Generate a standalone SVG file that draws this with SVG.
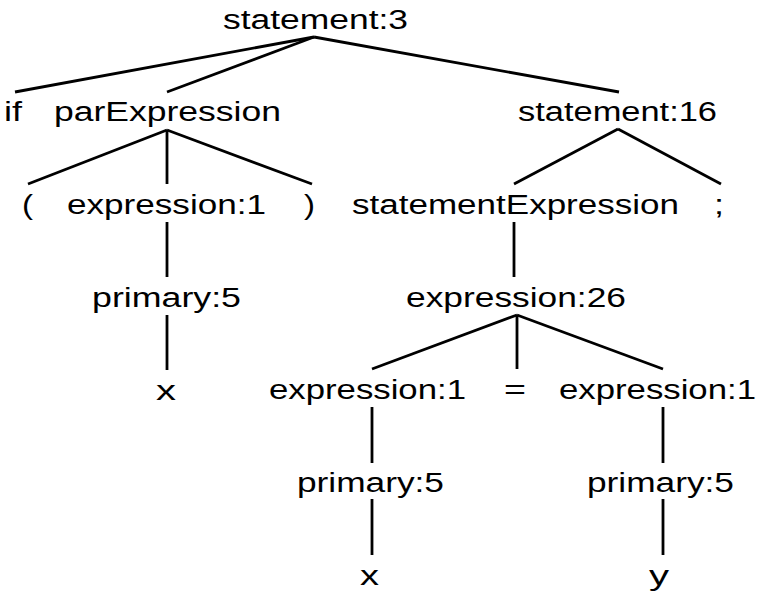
<svg xmlns="http://www.w3.org/2000/svg" width="762" height="602" viewBox="0 0 762 602">
<style>
text{font-family:"Liberation Sans",Arial,Helvetica,sans-serif;font-size:27px;fill:#000}
#edges line{stroke:#000;stroke-width:2.8;stroke-linecap:butt}
</style>
<rect width="762" height="602" fill="#fff"/>
<g id="edges">
<line x1="314" y1="37" x2="15" y2="92"/>
<line x1="314" y1="37" x2="167" y2="92"/>
<line x1="314" y1="37" x2="619" y2="92"/>
<line x1="167" y1="130" x2="28" y2="184"/>
<line x1="167" y1="130" x2="167" y2="184"/>
<line x1="167" y1="130" x2="312" y2="184"/>
<line x1="618" y1="129" x2="514" y2="184"/>
<line x1="618" y1="129" x2="721" y2="184"/>
<line x1="167" y1="222" x2="167" y2="277"/>
<line x1="514" y1="222" x2="514" y2="277"/>
<line x1="167" y1="315" x2="167" y2="370"/>
<line x1="517" y1="315" x2="372" y2="369"/>
<line x1="517" y1="315" x2="517" y2="369"/>
<line x1="517" y1="315" x2="663" y2="369"/>
<line x1="372" y1="407" x2="372" y2="463"/>
<line x1="663" y1="407" x2="663" y2="463"/>
<line x1="372" y1="499" x2="372" y2="555"/>
<line x1="663" y1="499" x2="663" y2="555"/>
</g>
<g id="n_statement3"><text x="223" y="29" textLength="185" lengthAdjust="spacingAndGlyphs">statement:3</text></g>
<g id="n_if"><text x="4" y="121" textLength="18" lengthAdjust="spacingAndGlyphs">if</text></g>
<g id="n_parExpression"><text x="54" y="121" textLength="227" lengthAdjust="spacingAndGlyphs">parExpression</text></g>
<g id="n_statement16"><text x="518" y="121" textLength="199" lengthAdjust="spacingAndGlyphs">statement:16</text></g>
<g id="n_lparen"><text x="22" y="214" textLength="11" lengthAdjust="spacingAndGlyphs">(</text></g>
<g id="n_expression1a"><text x="67" y="214" textLength="199" lengthAdjust="spacingAndGlyphs">expression:1</text></g>
<g id="n_rparen"><text x="304" y="214" textLength="11" lengthAdjust="spacingAndGlyphs">)</text></g>
<g id="n_statementExpression"><text x="352" y="214" textLength="327" lengthAdjust="spacingAndGlyphs">statementExpression</text></g>
<g id="n_semi"><text x="714" y="214" textLength="10" lengthAdjust="spacingAndGlyphs">;</text></g>
<g id="n_primary5a"><text x="92" y="307" textLength="149" lengthAdjust="spacingAndGlyphs">primary:5</text></g>
<g id="n_expression26"><text x="406" y="307" textLength="220" lengthAdjust="spacingAndGlyphs">expression:26</text></g>
<g id="n_xa"><text x="156" y="400" textLength="20" lengthAdjust="spacingAndGlyphs">x</text></g>
<g id="n_expression1b"><text x="269" y="399" textLength="197" lengthAdjust="spacingAndGlyphs">expression:1</text></g>
<g id="n_eq"><text x="504" y="399" textLength="22" lengthAdjust="spacingAndGlyphs">=</text></g>
<g id="n_expression1c"><text x="559" y="399" textLength="197" lengthAdjust="spacingAndGlyphs">expression:1</text></g>
<g id="n_primary5b"><text x="297" y="492" textLength="147" lengthAdjust="spacingAndGlyphs">primary:5</text></g>
<g id="n_primary5c"><text x="587" y="492" textLength="147" lengthAdjust="spacingAndGlyphs">primary:5</text></g>
<g id="n_xb"><text x="360" y="585" textLength="19" lengthAdjust="spacingAndGlyphs">x</text></g>
<g id="n_y"><text x="649" y="585" textLength="20" lengthAdjust="spacingAndGlyphs">y</text></g>
</svg>
